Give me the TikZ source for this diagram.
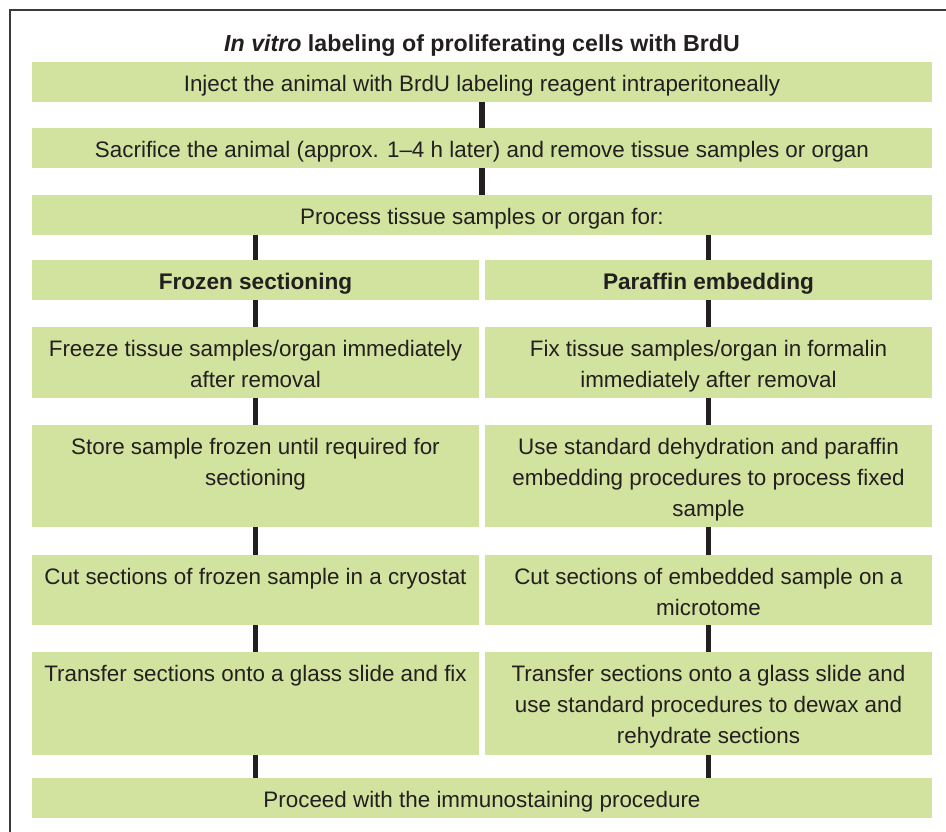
\documentclass[tikz,border=0pt]{standalone}
\usepackage{fontspec}
\setmainfont{Liberation Sans}
\definecolor{leaf}{RGB}{209,227,158}
\definecolor{ink}{RGB}{35,31,32}
\definecolor{rulegray}{RGB}{58,58,58}
\begin{document}
\begin{tikzpicture}[x=1pt,y=-1pt,
  box/.style={fill=leaf, draw=none, inner sep=0pt, outer sep=0pt, anchor=north west},
  wide/.style={box, minimum width=900pt},
  col/.style={box, minimum width=447pt},
  txt/.style={anchor=north, yshift=-7.8pt, inner sep=0pt, align=center, text=ink,
    font=\fontsize{22.4}{31}\selectfont},
  head/.style={txt, font=\fontsize{22.6}{31}\selectfont\bfseries},
  link/.style={draw=ink, line width=5.5pt}
]
\useasboundingbox (0,0) rectangle (946,832);
% page frame (top and left edges)
\draw[rulegray, line width=1.6pt] (10,832) -- (10,10) -- (946,10);

% title
\node[anchor=base, inner sep=0pt, text=ink, font=\fontsize{23.2}{27}\selectfont\bfseries]
  (title) at (482,52) {\textit{In vitro} labeling of proliferating cells with BrdU};

% common steps
\node[wide, minimum height=40pt] (b1) at (32,62) {};
\node[wide, minimum height=40pt] (b2) at (32,128) {};
\node[wide, minimum height=40pt] (b3) at (32,195) {};

% column headers
\node[col, minimum height=40pt] (fz) at (32,260) {};
\node[col, minimum height=40pt] (pf) at (485,260) {};

% frozen-section column
\node[col, minimum height=71pt] (l1) at (32,327) {};
\node[col, minimum height=102pt] (l2) at (32,425) {};
\node[col, minimum height=70pt] (l3) at (32,555) {};
\node[col, minimum height=103pt] (l4) at (32,652) {};

% paraffin column
\node[col, minimum height=71pt] (r1) at (485,327) {};
\node[col, minimum height=102pt] (r2) at (485,425) {};
\node[col, minimum height=70pt] (r3) at (485,555) {};
\node[col, minimum height=103pt] (r4) at (485,652) {};

% final step
\node[wide, minimum height=40pt] (b4) at (32,778) {};

% texts
\node[txt] (tb1) at (b1.north) {\strut Inject the animal with BrdU labeling reagent intraperitoneally};
\node[txt] (tb2) at (b2.north) {\strut Sacrifice the animal (approx. 1–4 h later) and remove tissue samples or organ};
\node[txt] (tb3) at (b3.north) {\strut Process tissue samples or organ for:};
\node[head] (tfz) at (fz.north) {\strut Frozen sectioning};
\node[head] (tpf) at (pf.north) {\strut Paraffin embedding};
\node[txt] (tl1) at (l1.north) {\strut Freeze tissue samples/organ immediately\\after removal};
\node[txt] (tl2) at (l2.north) {\strut Store sample frozen until required for\\sectioning};
\node[txt] (tl3) at (l3.north) {\strut Cut sections of frozen sample in a cryostat};
\node[txt] (tl4) at (l4.north) {\strut Transfer sections onto a glass slide and fix};
\node[txt] (tr1) at (r1.north) {\strut Fix tissue samples/organ in formalin\\immediately after removal};
\node[txt] (tr2) at (r2.north) {\strut Use standard dehydration and paraffin\\embedding procedures to process fixed\\sample};
\node[txt] (tr3) at (r3.north) {\strut Cut sections of embedded sample on a\\microtome};
\node[txt] (tr4) at (r4.north) {\strut Transfer sections onto a glass slide and\\use standard procedures to dewax and\\rehydrate sections};
\node[txt] (tb4) at (b4.north) {\strut Proceed with the immunostaining procedure};

% connectors
\draw[link] (b1.south) -- (b2.north);
\draw[link] (b2.south) -- (b3.north);
\draw[link] (b3.south -| fz.north) -- (fz.north);
\draw[link] (b3.south -| pf.north) -- (pf.north);
\draw[link] (fz.south) -- (l1.north);
\draw[link] (l1.south) -- (l2.north);
\draw[link] (l2.south) -- (l3.north);
\draw[link] (l3.south) -- (l4.north);
\draw[link] (l4.south) -- (b4.north -| l4.south);
\draw[link] (pf.south) -- (r1.north);
\draw[link] (r1.south) -- (r2.north);
\draw[link] (r2.south) -- (r3.north);
\draw[link] (r3.south) -- (r4.north);
\draw[link] (r4.south) -- (b4.north -| r4.south);
\end{tikzpicture}
\end{document}
